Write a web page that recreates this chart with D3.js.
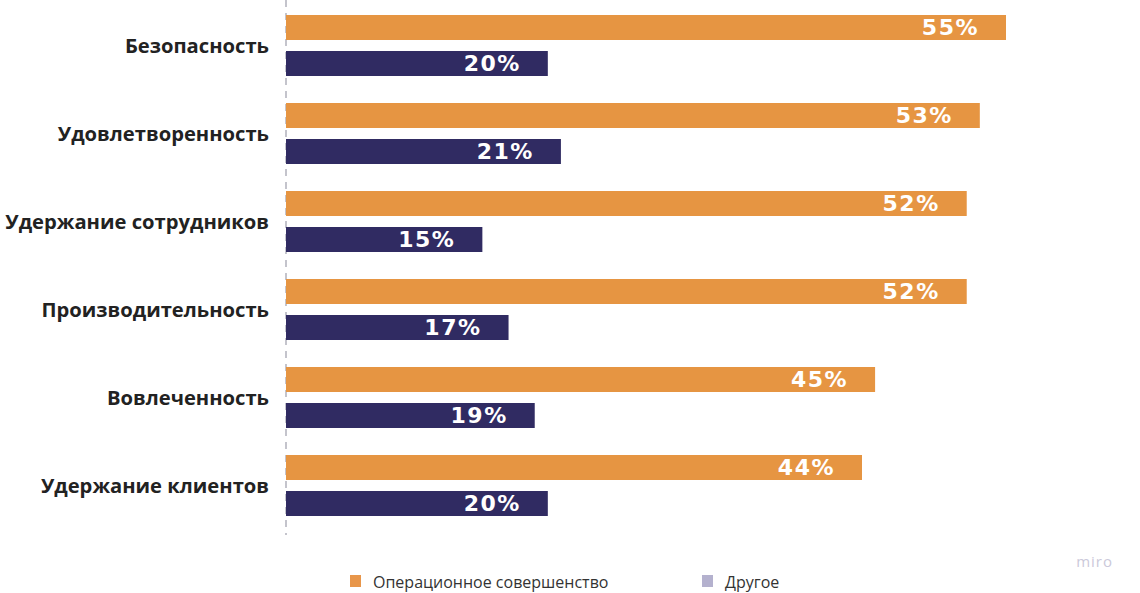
<!DOCTYPE html>
<html><head><meta charset="utf-8">
<script src="https://cdn.jsdelivr.net/npm/d3@7"></script>
<style>html,body{margin:0;padding:0;background:#fff;}svg{display:block;}</style>
</head><body>
<svg id="chart" width="1140" height="593"></svg>
<script>
const categories = ["Безопасность","Удовлетворенность","Удержание сотрудников","Производительность","Вовлеченность","Удержание клиентов"];
const seriesNames = ["Операционное совершенство","Другое"];
const opValues = [55,53,52,52,45,44];
const otherValues = [20,21,15,17,19,20];

const W=1140,H=593;
const svg=d3.select("#chart");
const x0=286;
const x=d3.scaleLinear().domain([0,55]).range([x0,1006]);
const y=d3.scaleBand().domain(categories).range([9,537]).paddingInner(0).paddingOuter(0);
const sub=d3.scaleBand().domain([0,1]).range([6,67]).paddingInner(11/36).paddingOuter(0);
const colors=["#E69542","#302B62"];
const legendColors=["#E8964A","#B4B1CE"];

// dashed axis
svg.append("line").attr("x1",x0).attr("x2",x0).attr("y1",0).attr("y2",535)
  .attr("stroke","#c4c4cc").attr("stroke-width",2).attr("stroke-dasharray","7,6");

const groups=svg.selectAll("g.grp").data(categories).enter().append("g")
  .attr("class","grp").attr("transform",d=>`translate(0,${y(d)})`);

[opValues,otherValues].forEach((vals,si)=>{
  groups.append("rect")
    .attr("x",x0).attr("y",sub(si)).attr("height",sub.bandwidth())
    .attr("width",(d,i)=>x(vals[i])-x0).attr("fill",colors[si]);
  groups.append("text")
    .attr("x",(d,i)=>x(vals[i])-27).attr("y",sub(si)+sub.bandwidth()/2)
    .attr("dy","0.36em").attr("text-anchor","end")
    .attr("font-family","DejaVu Sans").attr("font-weight","bold").attr("font-size",22)
    .attr("letter-spacing",1.5).attr("fill","#fff")
    .text((d,i)=>vals[i]+"%");
});

groups.append("text").attr("x",269).attr("y",37)
  .attr("dy","0.36em").attr("text-anchor","end")
  .attr("font-family","Open Sans").attr("font-weight","bold").attr("font-size",20.2)
  .attr("fill","#222").text(d=>d);

// legend
const legX=[350,702];
const leg=svg.selectAll("g.leg").data(seriesNames).enter().append("g")
  .attr("transform",(d,i)=>`translate(${legX[i]},575)`);
leg.append("rect").attr("width",11).attr("height",12).attr("fill",(d,i)=>legendColors[i]);
leg.append("text").attr("x",23).attr("y",7).attr("dy","0.35em")
  .attr("font-family","Open Sans").attr("font-size",16).attr("fill","#333").text(d=>d);

// watermark
svg.append("text").attr("x",1113).attr("y",567).attr("text-anchor","end")
  .attr("font-family","Open Sans").attr("font-size",15).attr("letter-spacing",1)
  .attr("fill","#cbc9da").text("miro");
</script>
</body></html>
